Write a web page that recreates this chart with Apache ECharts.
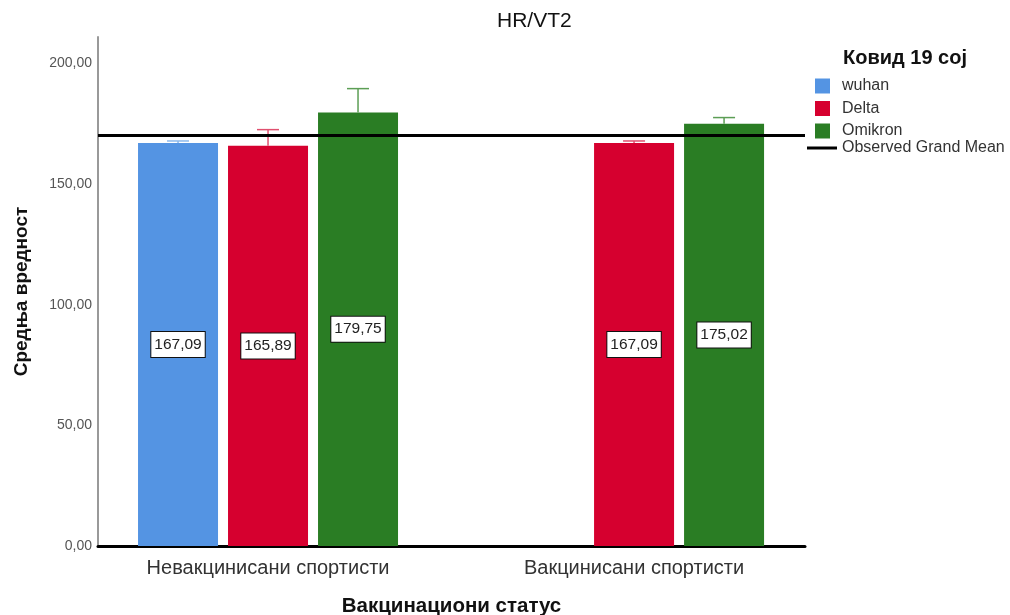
<!DOCTYPE html>
<html>
<head>
<meta charset="utf-8">
<script src="https://cdn.jsdelivr.net/npm/echarts@6/dist/echarts.min.js"></script>
<style>
html,body{margin:0;padding:0;background:#fff;}
#chart{width:1010px;height:615px;}
</style>
</head>
<body>
<div id="chart"></div>
<script>
const categories = ['Невакцинисани спортисти', 'Вакцинисани спортисти'];
const seriesNames = ['wuhan', 'Delta', 'Omikron'];
const wuhanMeans = [167.09, null];
const deltaMeans = [165.89, 167.09];
const omikronMeans = [179.75, 175.02];
const wuhanUpper = [167.9, null];
const deltaUpper = [172.6, 167.9];
const omikronUpper = [189.6, 177.6];
const grandMean = 170.2;
const yTicks = [0, 50, 100, 150, 200];

const barColors = ['#5494E3', '#D6002F', '#2A7D24'];
const errColors = ['#8CB8EC', '#E0506F', '#5C9E55'];
const means = [wuhanMeans, deltaMeans, omikronMeans];
const uppers = [wuhanUpper, deltaUpper, omikronUpper];

const fmt = v => v.toFixed(2).replace('.', ',');
const FONT = 'Liberation Sans, Arial, sans-serif';
const BAR_W = 80, GAP = 10;

// category positions on a numeric x axis (category index)
const toPairs = arr => arr.map((v, i) => v == null ? null : [i, v]).filter(d => d);

const errData = [];
means.forEach((arr, s) => {
  arr.forEach((m, c) => {
    if (m != null && uppers[s][c] != null) errData.push([c, s, m, uppers[s][c]]);
  });
});

const chart = echarts.init(document.getElementById('chart'));

const barSeries = seriesNames.map((name, i) => ({
  name: name,
  type: 'bar',
  data: toPairs(means[i]),
  barWidth: BAR_W,
  barGap: (GAP / BAR_W * 100) + '%',
  itemStyle: { color: barColors[i] },
  z: 2,
  label: {
    show: true,
    position: 'inside',
    formatter: p => fmt(p.value[1]),
    fontFamily: FONT,
    fontSize: 15.5,
    color: '#222',
    backgroundColor: '#fff',
    borderColor: '#111',
    borderWidth: 1,
    padding: [5, 3, 4, 3]
  }
}));

chart.setOption({
  animation: false,
  title: [
    { text: 'HR/VT2', left: 497, top: 11, padding: 0, textStyle: { fontFamily: FONT, fontSize: 21, fontWeight: 'normal', color: '#111' } },
    { text: 'Ковид 19 сој', left: 843, top: 48, padding: 0, textStyle: { fontFamily: FONT, fontSize: 20, fontWeight: 'bold', color: '#111' } }
  ],
  legend: [
    {
      data: seriesNames,
      orient: 'vertical',
      left: 815, top: 78, padding: 0,
      icon: 'rect',
      itemWidth: 15, itemHeight: 15, itemGap: 6.5,
      textStyle: { fontFamily: FONT, fontSize: 16, color: '#333', padding: [0, 0, 0, 7] }
    },
    {
      data: ['Observed Grand Mean'],
      left: 807, top: 140, padding: 0,
      icon: 'rect',
      itemWidth: 30, itemHeight: 3,
      textStyle: { fontFamily: FONT, fontSize: 16, color: '#333' }
    }
  ],
  grid: { left: 98, right: 205, top: 37, bottom: 69, containLabel: false, outerBoundsMode: 'none' },
  xAxis: {
    type: 'value',
    min: -0.4645, max: 1.467,
    splitLine: { show: false },
    axisLine: { onZero: false, lineStyle: { color: '#000', width: 3 } },
    axisTick: { show: false },
    axisLabel: {
      customValues: [0, 1],
      fontFamily: FONT, fontSize: 20, color: '#333', margin: 12,
      formatter: v => categories[Math.round(v)] || ''
    },
    name: 'Вакцинациони статус',
    nameLocation: 'middle',
    nameGap: 50,
    nameTextStyle: { fontFamily: FONT, fontSize: 20.5, fontWeight: 'bold', color: '#111' }
  },
  yAxis: {
    type: 'value',
    min: 0, max: 211, interval: 50,
    splitLine: { show: false },
    axisTick: { show: false },
    axisLine: { show: true, onZero: false, lineStyle: { color: '#999', width: 2 } },
    axisLabel: {
      fontFamily: FONT, fontSize: 14, color: '#555', margin: 6,
      formatter: v => yTicks.indexOf(v) >= 0 ? fmt(v) : ''
    },
    name: 'Средња вредност',
    nameLocation: 'middle',
    nameGap: 67,
    nameTextStyle: { fontFamily: FONT, fontSize: 19, fontWeight: 'bold', color: '#111' }
  },
  series: barSeries.concat([
    {
      name: 'errors',
      type: 'custom',
      z: 3,
      data: errData,
      encode: { x: 0, y: 2 },
      renderItem: function (params, api) {
        const c = api.value(0), s = api.value(1);
        const top = api.coord([c, api.value(2)]);
        const up = api.coord([c, api.value(3)]);
        const off = (s - 1) * (BAR_W + GAP);
        const x = top[0] + off;
        const col = errColors[s];
        return {
          type: 'group',
          children: [
            { type: 'line', shape: { x1: x, y1: top[1], x2: x, y2: up[1] }, style: { stroke: col, lineWidth: 1.5 } },
            { type: 'line', shape: { x1: x - 11, y1: up[1], x2: x + 11, y2: up[1] }, style: { stroke: col, lineWidth: 1.5 } }
          ]
        };
      },
      silent: true
    },
    {
      name: 'Observed Grand Mean',
      type: 'line',
      data: [],
      itemStyle: { color: '#000' },
      lineStyle: { color: '#000', width: 3 },
      markLine: {
        silent: true,
        symbol: 'none',
        label: { show: false },
        lineStyle: { color: '#000', width: 3, type: 'solid' },
        data: [{ yAxis: grandMean }]
      },
      z: 5
    }
  ])
});
</script>
</body>
</html>
